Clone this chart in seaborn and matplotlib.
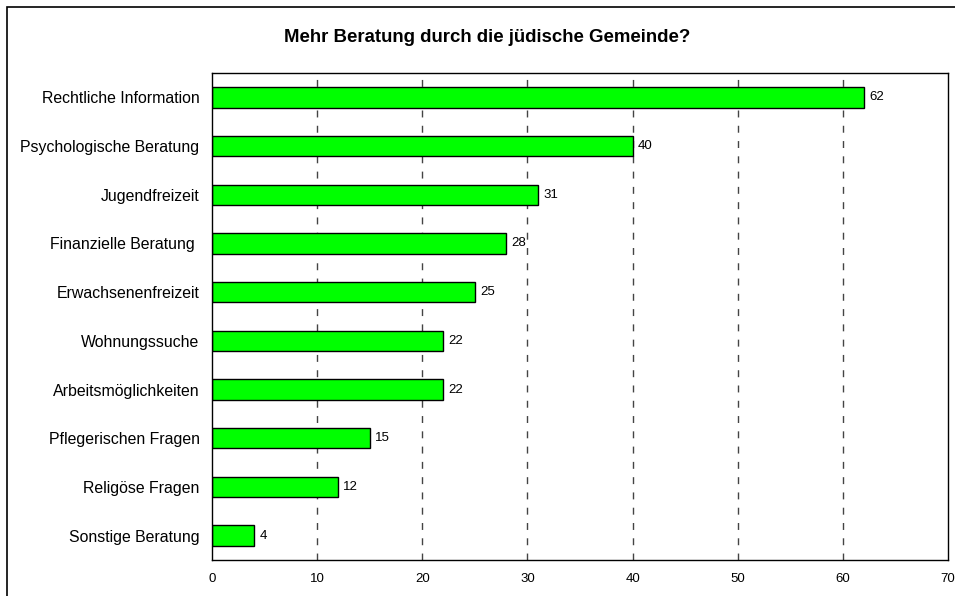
import pandas as pd
import matplotlib.pyplot as plt
import seaborn as sns
from matplotlib.patches import Rectangle

# Werte
categories = ['Rechtliche Information', 'Psychologische Beratung', 'Jugendfreizeit',
              'Finanzielle Beratung ', 'Erwachsenenfreizeit', 'Wohnungssuche',
              'Arbeitsmöglichkeiten', 'Pflegerischen Fragen', 'Religöse Fragen',
              'Sonstige Beratung']
values = [62, 40, 31, 28, 25, 22, 22, 15, 12, 4]
x_ticks = [0, 10, 20, 30, 40, 50, 60, 70]

df = pd.DataFrame({'Kategorie': categories, 'Anzahl': values})

sns.set_style('white')
plt.rcParams['font.family'] = ['Liberation Sans', 'DejaVu Sans']
plt.rcParams['text.color'] = 'black'
plt.rcParams['xtick.color'] = 'black'
plt.rcParams['ytick.color'] = 'black'

fig = plt.figure(figsize=(9.55, 5.96), dpi=100)
ax = fig.add_axes([212 / 955, 1 - 560 / 596, (948 - 212) / 955, (560 - 73) / 596])

sns.barplot(data=df, y='Kategorie', x='Anzahl', orient='h', color='#00ff00',
            edgecolor='black', linewidth=1, width=0.42, saturation=1, ax=ax)

for i, v in enumerate(values):
    ax.text(v + 0.5, i, str(v), va='center', ha='left', fontsize=9.5, color='black')

ax.set_xlim(0, 70)
ax.set_xticks(x_ticks)
ax.set_xticklabels([str(t) for t in x_ticks], fontsize=9.5)
ax.tick_params(axis='x', direction='out', length=4, width=1, color='black', pad=5)
ax.tick_params(axis='y', length=0, labelsize=11.4, pad=9)
ax.set_xlabel('')
ax.set_ylabel('')

for t in x_ticks[1:-1]:
    ax.axvline(t, color='#444444', linestyle=(0, (5, 6)), linewidth=1, zorder=0)

for s in ax.spines.values():
    s.set_visible(True)
    s.set_color('black')
    s.set_linewidth(1)

fig.text(487 / 955, 1 - 38 / 596, 'Mehr Beratung durch die jüdische Gemeinde?',
         ha='center', va='center', fontsize=13.4, fontweight='bold', color='black')

# Rahmen um die ganze Grafik
fig.patches.append(Rectangle((7 / 955, -0.05), 1.1, 1 - 7 / 596 + 0.05,
                             transform=fig.transFigure, fill=False,
                             edgecolor='black', linewidth=1.2))

fig.savefig('out.png', dpi=100)
